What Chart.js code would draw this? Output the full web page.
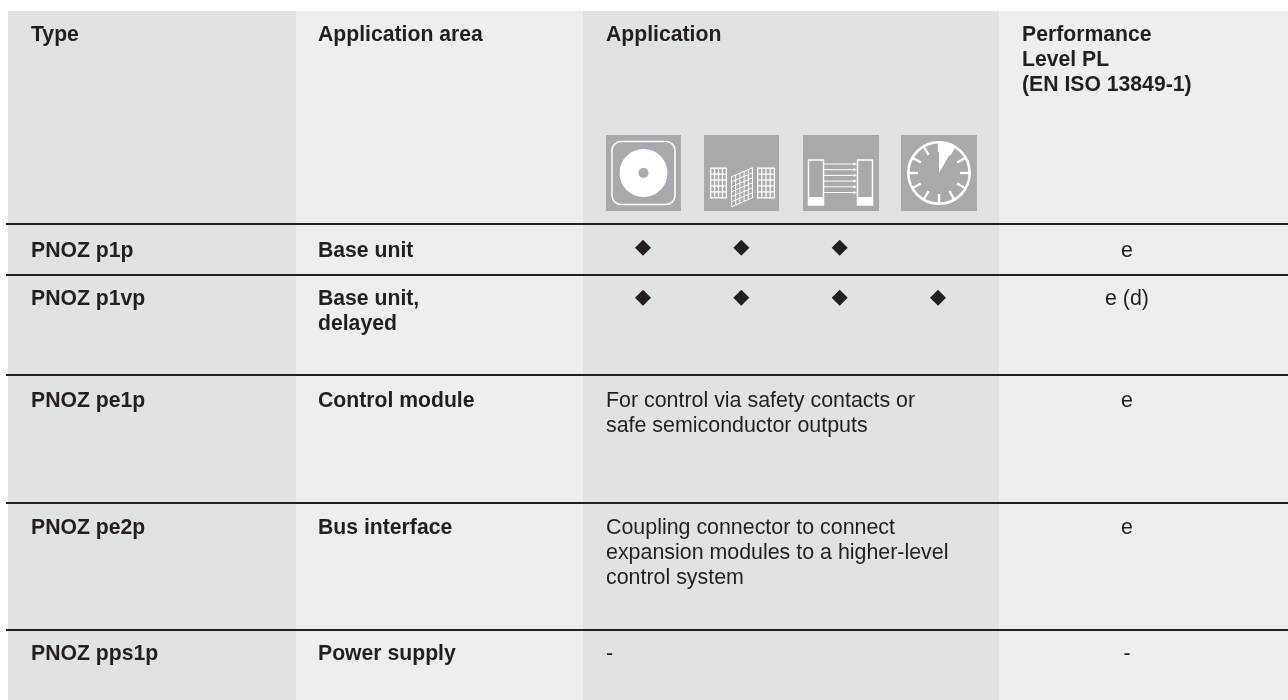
<!DOCTYPE html>
<html>
<head>
<meta charset="utf-8">
<title>PNOZ overview</title>
<script src="https://cdn.jsdelivr.net/npm/chart.js@4/dist/chart.umd.js"></script>
<style>
  body { margin: 0; background: #fff; }
  canvas { display: block; }
</style>
</head>
<body>
<canvas id="chart" width="1288" height="700"></canvas>
<script>
// Table content.
const headers = [['Type'], ['Application area'], ['Application'], ['Performance', 'Level PL', '(EN ISO 13849-1)']];
const types = ['PNOZ p1p', 'PNOZ p1vp', 'PNOZ pe1p', 'PNOZ pe2p', 'PNOZ pps1p'];
const areas = [['Base unit'], ['Base unit,', 'delayed'], ['Control module'], ['Bus interface'], ['Power supply']];
const notes = [
  [],
  [],
  ['For control via safety contacts or', 'safe semiconductor outputs'],
  ['Coupling connector to connect', 'expansion modules to a higher-level', 'control system'],
  ['-']
];
const levels = ['e', 'e (d)', 'e', 'e', '-'];

// Which application icon (0-3) is ticked for each of the first two rows.
const applicationIndex = [0, 1, 2, 3];
const p1pApplications = [0, 1, 2];
const p1vpApplications = [0, 1, 2, 3];

const INK = '#231f20';
const ICON_GREY = '#a7a9ac';
const BOLD = 'bold 21.2px "Liberation Sans"';
const REGULAR = '21.4px "Liberation Sans"';
const LINE = 25;

// Left edge of each column's band and of its text.
const bandEdges = [8, 296, 583, 999, 1288];
const bandColors = ['#e1e2e4', '#eeeeee', '#e1e2e4', '#eeeeee'];
const textLeft = [31, 318, 606, 1022];
const levelCenter = 1127;
const ruleTops = [224, 275, 375, 503, 630];
const baselines = [257, 305, 407, 534, 660];

function label(ctx, lines, x, y, font, align) {
  ctx.font = font;
  ctx.fillStyle = INK;
  ctx.textAlign = align || 'left';
  ctx.textBaseline = 'alphabetic';
  lines.forEach((text, i) => ctx.fillText(text, x, y + i * LINE));
}

function iconDisc(ctx, cx, cy) {
  ctx.strokeStyle = '#fff';
  ctx.lineWidth = 1.5;
  ctx.beginPath();
  ctx.roundRect(cx - 31.5, cy - 31.5, 63, 63, 9);
  ctx.stroke();
  ctx.fillStyle = '#fff';
  ctx.beginPath();
  ctx.arc(cx, cy, 24, 0, Math.PI * 2);
  ctx.fill();
  ctx.fillStyle = ICON_GREY;
  ctx.beginPath();
  ctx.arc(cx, cy, 5, 0, Math.PI * 2);
  ctx.fill();
}

function iconGrid(ctx, x, y, w, h, cols, rows, line) {
  ctx.fillStyle = '#fff';
  ctx.fillRect(x, y, w, h);
  ctx.fillStyle = ICON_GREY;
  const cw = (w - line) / cols;
  const ch = (h - line) / rows;
  for (let c = 0; c < cols; c++) {
    for (let r = 0; r < rows; r++) {
      ctx.fillRect(x + c * cw + line, y + r * ch + line, cw - line, ch - line);
    }
  }
}

function iconMuting(ctx, cx, cy) {
  iconGrid(ctx, cx - 31.5, cy - 5.5, 17, 31, 4, 5, 1.3);
  iconGrid(ctx, cx + 15.5, cy - 5.5, 18, 31, 4, 5, 1.3);
  // Skewed middle panel.
  ctx.save();
  ctx.transform(1, -9.5 / 22, 0, 1, cx - 10.5, cy + 3.5);
  iconGrid(ctx, 0, 0, 22, 31, 5, 6, 1);
  ctx.restore();
}

function iconCurtain(ctx, cx, cy) {
  ctx.strokeStyle = '#fff';
  ctx.fillStyle = '#fff';
  ctx.lineWidth = 1.5;
  [cx - 32.5, cx + 16.5].forEach(x => {
    ctx.strokeRect(x, cy - 13, 15, 45);
    ctx.fillRect(x, cy + 24, 15, 8);
  });
  ctx.lineWidth = 1;
  for (let i = 0; i < 6; i++) {
    const y = cy - 9 + i * 5.7;
    ctx.beginPath();
    ctx.moveTo(cx - 17.5, y);
    ctx.lineTo(cx + 13, y);
    ctx.stroke();
    ctx.beginPath();
    ctx.moveTo(cx + 16, y);
    ctx.lineTo(cx + 12.5, y - 1.6);
    ctx.lineTo(cx + 12.5, y + 1.6);
    ctx.closePath();
    ctx.fill();
  }
}

function iconClock(ctx, cx, cy) {
  ctx.strokeStyle = '#fff';
  ctx.fillStyle = '#fff';
  ctx.lineWidth = 2.6;
  ctx.beginPath();
  ctx.arc(cx, cy, 30.7, 0, Math.PI * 2);
  ctx.stroke();
  ctx.lineWidth = 2.4;
  for (let i = 0; i < 12; i++) {
    const a = i * Math.PI / 6;
    ctx.beginPath();
    ctx.moveTo(cx + Math.sin(a) * 30, cy - Math.cos(a) * 30);
    ctx.lineTo(cx + Math.sin(a) * 21, cy - Math.cos(a) * 21);
    ctx.stroke();
  }
  ctx.beginPath();
  ctx.moveTo(cx, cy);
  ctx.arc(cx, cy, 30, -Math.PI / 2, -Math.PI / 3);
  ctx.closePath();
  ctx.fill();
}

const iconDrawers = [iconDisc, iconMuting, iconCurtain, iconClock];
const iconCenters = [643.5, 741.5, 841, 939];

// Bands go under the markers.
const bandsPlugin = {
  id: 'bands',
  beforeDatasetsDraw(chart) {
    const ctx = chart.ctx;
    ctx.save();
    bandColors.forEach((color, i) => {
      ctx.fillStyle = color;
      ctx.fillRect(bandEdges[i], 11, bandEdges[i + 1] - bandEdges[i], 689);
    });
    ctx.fillStyle = INK;
    ruleTops.forEach(y => ctx.fillRect(6, y - 1, 1282, 2));
    ctx.restore();
  }
};

// Text and icons go on top.
const tablePlugin = {
  id: 'table',
  afterDatasetsDraw(chart) {
    const ctx = chart.ctx;
    ctx.save();
    headers.forEach((lines, i) => label(ctx, lines, textLeft[i], 41, BOLD));
    types.forEach((text, i) => {
      label(ctx, [text], textLeft[0], baselines[i], BOLD);
      label(ctx, areas[i], textLeft[1], baselines[i], BOLD);
      label(ctx, notes[i], textLeft[2], baselines[i], REGULAR);
      label(ctx, [levels[i]], levelCenter, baselines[i], REGULAR, 'center');
    });
    applicationIndex.forEach(i => {
      const cx = iconCenters[i];
      const w = i < 2 ? 75 : 76;
      ctx.fillStyle = ICON_GREY;
      ctx.fillRect(cx - w / 2, 135, w, 76);
      iconDrawers[i](ctx, cx, 173);
    });
    ctx.restore();
  }
};

function ticks(apps, row) {
  return apps.map(app => ({ x: app, y: row }));
}

const marker = {
  pointStyle: 'rectRot',
  pointRadius: 8,
  pointBackgroundColor: INK,
  pointBorderWidth: 0,
  showLine: false
};

new Chart(document.getElementById('chart'), {
  type: 'scatter',
  data: {
    datasets: [
      { label: 'PNOZ p1p', data: ticks(p1pApplications, 0), ...marker },
      { label: 'PNOZ p1vp', data: ticks(p1vpApplications, 1), ...marker }
    ]
  },
  plugins: [bandsPlugin, tablePlugin],
  options: {
    responsive: false,
    animation: false,
    // autoPadding would shrink the plot area by the point radius.
    layout: { padding: 0, autoPadding: false },
    plugins: { legend: { display: false }, tooltip: { enabled: false } },
    scales: {
      // x is the application column, y the table row. One column is 98.33px, one row 50px.
      // bounds: 'data' stops the min/max getting rounded to nice ticks.
      x: { type: 'linear', display: false, bounds: 'data', min: -643 / 98.33, max: (1288 - 643) / 98.33 },
      y: { type: 'linear', display: false, bounds: 'data', reverse: true, min: -247.7 / 50, max: (700 - 247.7) / 50 }
    }
  }
});
</script>
</body>
</html>
